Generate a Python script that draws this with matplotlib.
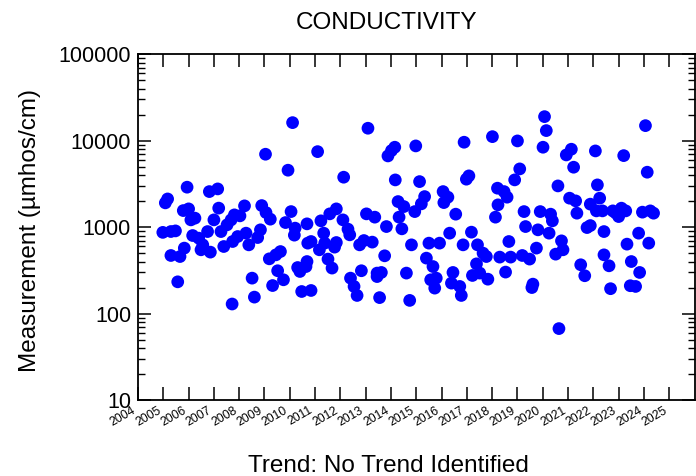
import numpy as np
import matplotlib
matplotlib.use("Agg")
from matplotlib import pyplot as plt
from matplotlib.ticker import LogLocator, FixedLocator, NullFormatter

plt.rcParams['font.family'] = ['Liberation Sans', 'DejaVu Sans']

# sample dates (decimal years) and conductivity readings (umhos/cm)
sample_year = [
    2004.98, 2005.08, 2005.17, 2005.30, 2005.48, 2005.30, 2005.66, 2005.57, 2005.83, 2005.79,
    2006.00, 2005.94, 2006.09, 2006.25, 2006.16, 2006.40, 2006.49, 2006.56, 2006.75, 2006.86,
    2006.82, 2007.15, 2007.00, 2007.19, 2007.28, 2007.39, 2007.52, 2007.68, 2007.74, 2007.81,
    2008.03, 2007.94, 2008.21, 2008.27, 2008.38, 2007.72, 2008.51, 2008.60, 2008.73, 2008.84,
    2008.89, 2009.04, 2009.06, 2009.23, 2009.19, 2009.45, 2009.63, 2009.52, 2009.75, 2009.32,
    2009.83, 2009.93, 2010.05, 2010.11, 2010.21, 2010.18, 2010.31, 2010.40, 2010.47, 2010.68,
    2010.68, 2010.64, 2010.71, 2010.84, 2010.84, 2011.10, 2011.17, 2011.23, 2011.34, 2011.38,
    2011.51, 2011.58, 2011.67, 2011.84, 2011.84, 2011.77, 2012.10, 2012.13, 2012.30, 2012.37,
    2012.40, 2012.54, 2012.66, 2012.76, 2012.83, 2012.93, 2013.03, 2013.09, 2013.26, 2013.36,
    2013.45, 2013.45, 2013.62, 2013.55, 2013.75, 2013.82, 2013.88, 2014.02, 2014.15, 2014.17,
    2014.28, 2014.32, 2014.43, 2014.51, 2014.61, 2014.74, 2014.81, 2014.94, 2014.98, 2015.13,
    2015.20, 2015.33, 2015.40, 2015.50, 2015.66, 2015.57, 2015.79, 2015.73, 2015.92, 2016.06,
    2016.09, 2016.25, 2016.32, 2016.39, 2016.45, 2016.56, 2016.72, 2016.78, 2016.85, 2016.89,
    2016.98, 2017.08, 2017.18, 2017.22, 2017.38, 2017.42, 2017.51, 2017.64, 2017.77, 2017.83,
    2018.01, 2018.13, 2018.21, 2018.23, 2018.30, 2018.47, 2018.53, 2018.59, 2018.66, 2018.73,
    2018.89, 2019.00, 2019.09, 2019.19, 2019.26, 2019.32, 2019.48, 2019.57, 2019.61, 2019.75,
    2019.81, 2019.90, 2020.01, 2020.07, 2020.14, 2020.25, 2020.31, 2020.38, 2020.51, 2020.60,
    2020.64, 2020.74, 2020.80, 2020.93, 2021.06, 2021.13, 2021.22, 2021.30, 2021.35, 2021.50,
    2021.66, 2021.75, 2021.88, 2021.88, 2022.08, 2022.12, 2022.16, 2022.25, 2022.36, 2022.42,
    2022.42, 2022.62, 2022.68, 2022.77, 2022.88, 2023.00, 2023.11, 2023.20, 2023.28, 2023.33,
    2023.50, 2023.46, 2023.67, 2023.79, 2023.83, 2023.94, 2024.06, 2024.13, 2024.19, 2024.25,
    2024.38,
]
conductivity = [
    870, 1910, 2120, 890, 905, 470, 457, 233, 572, 1555,
    1627, 2900, 1214, 1271, 800, 746, 547, 624, 889, 514,
    2580, 2770, 1214, 1660, 889, 597, 1063, 1214, 682, 1387,
    1351, 779, 1763, 852, 624, 129, 257, 155, 758, 931,
    1777, 6980, 1475, 1237, 430, 478, 522, 313, 246, 211,
    1130, 4560, 1514, 16200, 974, 808, 341, 307, 180, 1092,
    400, 350, 653, 682, 185, 7480, 547, 1183, 852, 653,
    427, 1425, 336, 1627, 664, 587, 1214, 3784, 948, 815,
    257, 206, 162, 624, 313, 700, 1425, 13950, 671, 1305,
    294, 268, 299, 153, 466, 1016, 6670, 7690, 8410, 3520,
    1977, 1305, 956, 1730, 294, 142, 624, 1514, 8710, 3366,
    1860, 2258, 438, 653, 350, 246, 257, 197, 653, 2580,
    1924, 2222, 852, 225, 299, 1413, 206, 162, 624, 9610,
    3590, 3920, 875, 276, 376, 624, 294, 500, 457, 250,
    11150, 1305, 2824, 1811, 450, 2580, 302, 2222, 682, 450,
    3523, 9950, 4720, 470, 1514, 1016, 427, 200, 219, 572,
    931, 1514, 8410, 19000, 13100, 852, 1413, 1183, 487, 3000,
    67, 694, 547, 6850, 2164, 7975, 4938, 2014, 1451, 367,
    274, 989, 1043, 1845, 7620, 1543, 3083, 2164, 1543, 889,
    478, 357, 194, 1543, 1463, 1326, 1658, 6725, 1543, 636,
    400, 210, 206, 852, 299, 1491, 14950, 4323, 653, 1543,
    1451,
]
year_ticks = list(range(2004, 2026))
value_ticks = [10, 100, 1000, 10000, 100000]

fig = plt.figure(figsize=(6.96, 4.76), dpi=100)
ax = fig.add_axes([0.1983, 0.1597, 0.7996, 0.7262])

ax.scatter(sample_year, conductivity, s=84, color='#0000ff', edgecolors='none', zorder=3)

ax.set_yscale('log')
ax.set_xlim(2004, 2026)
ax.set_ylim(10, 100000)

ax.xaxis.set_major_locator(FixedLocator(year_ticks))
ax.set_xticklabels([str(y) for y in year_ticks], rotation=30, ha='right', fontsize=8.8)
ax.yaxis.set_major_locator(FixedLocator(value_ticks))
ax.set_yticklabels([str(v) for v in value_ticks], fontsize=15.5)
ax.yaxis.set_minor_locator(LogLocator(base=10, subs=np.arange(2, 10)))
ax.yaxis.set_minor_formatter(NullFormatter())

ax.tick_params(which='major', direction='in', length=9.5, width=1.1,
               top=True, right=True, pad=5)
ax.tick_params(which='minor', direction='in', length=5, width=1.0,
               top=True, right=True)
ax.tick_params(axis='x', pad=3)
for sp in ax.spines.values():
    sp.set_linewidth(1.3)

# texts placed on the figure to match the original layout
fig.text(387 / 696, 1 - 29.3 / 476, 'CONDUCTIVITY', ha='center', va='baseline', fontsize=17.5)
fig.text(388 / 696, 1 - 472 / 476, 'Trend: No Trend Identified', ha='center', va='baseline', fontsize=17.5)
fig.text(30 / 696, 1 - 230 / 476, 'Measurement (µmhos/cm)', ha='center', va='center',
         rotation=90, fontsize=17.5)

fig.savefig('out.png', dpi=100)
